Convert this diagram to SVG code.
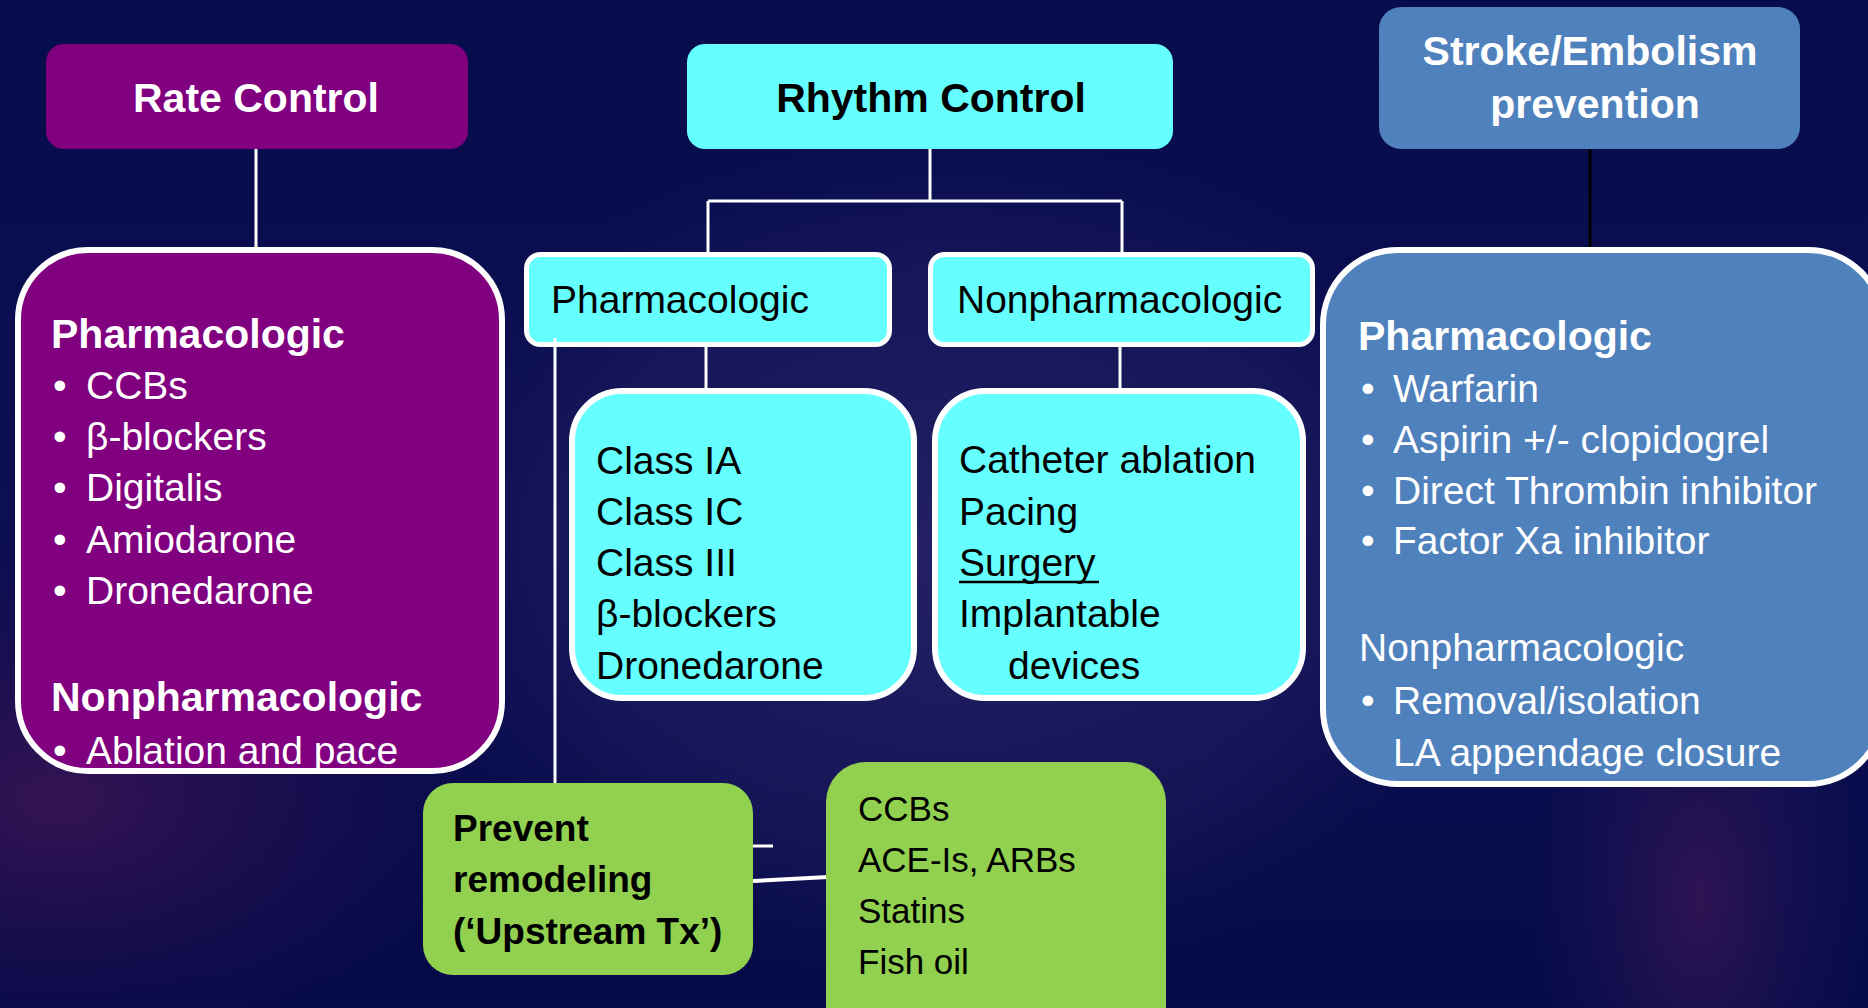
<svg xmlns="http://www.w3.org/2000/svg" width="1868" height="1008" viewBox="0 0 1868 1008">
<defs>
<linearGradient id="bg" x1="0" y1="0" x2="0" y2="1">
<stop offset="0" stop-color="#070c4c"/>
<stop offset="0.5" stop-color="#0c0f52"/>
<stop offset="1" stop-color="#060a48"/>
</linearGradient>
<radialGradient id="g1" cx="0.5" cy="0.5" r="0.5">
<stop offset="0" stop-color="#3a2e78" stop-opacity="0.55"/>
<stop offset="0.7" stop-color="#2a2468" stop-opacity="0.35"/>
<stop offset="1" stop-color="#1a1a5a" stop-opacity="0"/>
</radialGradient>
<radialGradient id="g2" cx="0.5" cy="0.5" r="0.5">
<stop offset="0" stop-color="#5a1a5a" stop-opacity="0.55"/>
<stop offset="1" stop-color="#3a1050" stop-opacity="0"/>
</radialGradient>
<radialGradient id="g3" cx="0.5" cy="0.5" r="0.5">
<stop offset="0" stop-color="#4a1a5a" stop-opacity="0.6"/>
<stop offset="1" stop-color="#2a1a5a" stop-opacity="0"/>
</radialGradient>
<style>
.t{font-family:"Liberation Sans",Arial,sans-serif;font-size:39px}
.b{font-weight:bold;font-size:41px}
.w{fill:#ffffff}
.k{fill:#000000}
.g{font-size:35px}
.gb{font-weight:bold;font-size:37px}
.c{text-anchor:middle}
.edge{stroke:#ffffff;stroke-width:3;fill:none}
.frame{fill:none;stroke:#ffffff;stroke-width:6}
</style>
</defs>
<rect width="1868" height="1008" fill="url(#bg)"/>
<ellipse cx="950" cy="560" rx="560" ry="430" fill="url(#g1)"/>
<ellipse cx="60" cy="800" rx="420" ry="260" fill="url(#g2)"/>
<ellipse cx="1700" cy="900" rx="170" ry="330" fill="url(#g3)"/>

<g id="connectors">
<path class="edge" d="M256 149 V247"/>
<path class="edge" d="M930 149 V201 M708 201 H1122 M708 201 V252 M1122 201 V252"/>
<path class="edge" d="M706 347 V388"/>
<path class="edge" d="M1120 347 V388"/>
<path d="M1590 149 V247" stroke="#000000" stroke-width="3" fill="none"/>
<path class="edge" d="M753 846 H773"/>
<path d="M753 881 L828 877" stroke="#ffffff" stroke-width="4" fill="none"/>
</g>

<g id="rate-control">
<rect x="46" y="44" width="422" height="105" rx="18" fill="#800080"/>
<text class="t b w c" x="256" y="112">Rate Control</text>
</g>

<g id="rhythm-control">
<rect x="687" y="44" width="486" height="105" rx="18" fill="#66ffff"/>
<text class="t b k c" x="931" y="112">Rhythm Control</text>
</g>

<g id="stroke-prevention">
<rect x="1379" y="7" width="421" height="142" rx="22" fill="#4f81bd"/>
<text class="t b w c" x="1590" y="65">Stroke/Embolism</text>
<text class="t b w c" x="1595" y="118">prevention</text>
</g>

<g id="rate-box">
<rect x="18" y="250" width="484" height="521" rx="70" fill="#800080"/>
<text class="t b w" x="51" y="348">Pharmacologic</text>
<text class="t w" x="53" y="399">•</text><text class="t w" x="86" y="399">CCBs</text>
<text class="t w" x="53" y="450">•</text><text class="t w" x="86" y="450">β-blockers</text>
<text class="t w" x="53" y="501">•</text><text class="t w" x="86" y="501">Digitalis</text>
<text class="t w" x="53" y="553">•</text><text class="t w" x="86" y="553">Amiodarone</text>
<text class="t w" x="53" y="604">•</text><text class="t w" x="86" y="604">Dronedarone</text>
<text class="t b w" x="51" y="711">Nonpharmacologic</text>
<text class="t w" x="53" y="764">•</text><text class="t w" x="86" y="764">Ablation and pace</text>
<rect class="frame" x="18" y="250" width="484" height="521" rx="70"/>
</g>

<g id="rhythm-pharm">
<rect x="526.5" y="254.5" width="363" height="90" rx="14" fill="#66ffff" stroke="#ffffff" stroke-width="5"/>
<text class="t k" x="551" y="313">Pharmacologic</text>
</g>

<g id="rhythm-nonpharm">
<rect x="930.5" y="254.5" width="382" height="90" rx="14" fill="#66ffff" stroke="#ffffff" stroke-width="5"/>
<text class="t k" x="957" y="313">Nonpharmacologic</text>
</g>

<g id="class-box">
<rect x="572" y="391" width="342" height="307" rx="50" fill="#66ffff" stroke="#ffffff" stroke-width="6"/>
<text class="t k" x="596" y="474">Class IA</text>
<text class="t k" x="596" y="525">Class IC</text>
<text class="t k" x="596" y="576">Class III</text>
<text class="t k" x="596" y="627">β-blockers</text>
<text class="t k" x="596" y="679">Dronedarone</text>
</g>

<g id="nonpharm-box">
<rect x="935" y="391" width="368" height="307" rx="50" fill="#66ffff" stroke="#ffffff" stroke-width="6"/>
<text class="t k" x="959" y="473">Catheter ablation</text>
<text class="t k" x="959" y="525">Pacing</text>
<text class="t k" x="959" y="576">Surgery</text>
<line x1="959" y1="582" x2="1099" y2="582" stroke="#000000" stroke-width="2.5"/>
<text class="t k" x="959" y="627">Implantable</text>
<text class="t k" x="1008" y="679">devices</text>
</g>

<g id="stroke-box">
<rect x="1323" y="250" width="560" height="534" rx="75" fill="#4f81bd"/>
<text class="t b w" x="1358" y="350">Pharmacologic</text>
<text class="t w" x="1361" y="402">•</text><text class="t w" x="1393" y="402">Warfarin</text>
<text class="t w" x="1361" y="453">•</text><text class="t w" x="1393" y="453">Aspirin +/- clopidogrel</text>
<text class="t w" x="1361" y="504">•</text><text class="t w" x="1393" y="504">Direct Thrombin inhibitor</text>
<text class="t w" x="1361" y="554">•</text><text class="t w" x="1393" y="554">Factor Xa inhibitor</text>
<text class="t w" x="1359" y="661">Nonpharmacologic</text>
<text class="t w" x="1361" y="714">•</text><text class="t w" x="1393" y="714">Removal/isolation</text>
<text class="t w" x="1393" y="766">LA appendage closure</text>
<rect class="frame" x="1323" y="250" width="560" height="534" rx="75"/>
</g>

<g id="pharm-line">
<path class="edge" d="M555 338 V786"/>
</g>

<g id="upstream-box">
<rect x="423" y="783" width="330" height="192" rx="30" fill="#92d050"/>
<text class="t gb k" x="453" y="841">Prevent</text>
<text class="t gb k" x="453" y="892">remodeling</text>
<text class="t gb k" x="453" y="944">(‘Upstream Tx’)</text>
</g>

<g id="upstream-list">
<rect x="826" y="762" width="340" height="290" rx="40" fill="#92d050"/>
<text class="t g k" x="858" y="821">CCBs</text>
<text class="t g k" x="858" y="872">ACE-Is, ARBs</text>
<text class="t g k" x="858" y="923">Statins</text>
<text class="t g k" x="858" y="974">Fish oil</text>
</g>
</svg>
